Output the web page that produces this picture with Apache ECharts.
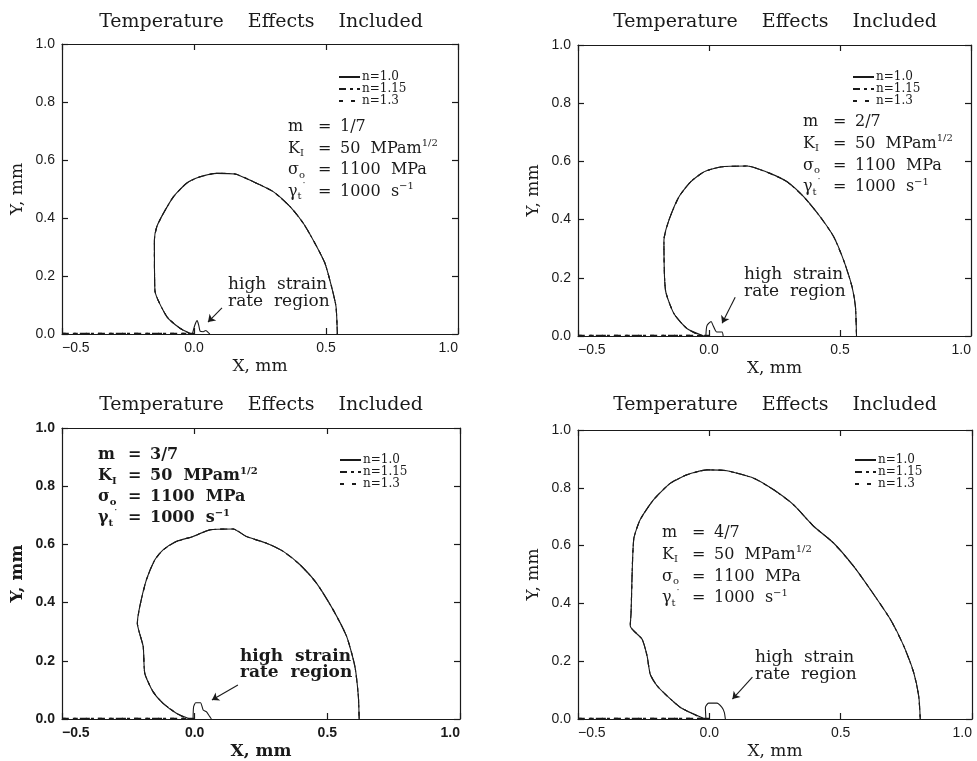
<!DOCTYPE html>
<html><head><meta charset="utf-8">
<script src="https://cdn.jsdelivr.net/npm/echarts@6/dist/echarts.min.js"></script>
<style>html,body{margin:0;padding:0;background:#fff}#c{width:977px;height:761px}</style>
</head><body><div id="c"></div>
<script>
// ---- axis ranges / ticks ----
const X_MIN = -0.5, X_MAX = 1.0, X_STEP = 0.5;
const Y_MIN = 0.0, Y_MAX = 1.0, Y_STEP = 0.2;
const seriesNames = ['n=1.0', 'n=1.15', 'n=1.3'];
const panelTitle = 'Temperature    Effects    Included';
const mValues = ['1/7', '2/7', '3/7', '4/7'];
const kValue = '50', sigmaValue = '1100', gammaValue = '1000';

// ---- plastic-zone contours (x, y in mm) ----
const contourM1 = [[-0.009,0],[-0.053,0.02],[-0.103,0.06],[-0.148,0.15],[-0.150,0.324],[-0.141,0.37],[-0.116,0.416],[-0.078,0.473],[-0.028,0.52],[0.023,0.542],[0.086,0.554],[0.155,0.552],[0.225,0.525],[0.300,0.491],[0.364,0.439],[0.414,0.382],[0.458,0.313],[0.496,0.244],[0.521,0.163],[0.538,0.094],[0.543,0]];
const contourM2 = [[-0.020,0],[-0.083,0.025],[-0.134,0.077],[-0.166,0.157],[-0.172,0.329],[-0.153,0.398],[-0.115,0.478],[-0.070,0.530],[-0.019,0.564],[0.044,0.581],[0.146,0.584],[0.235,0.558],[0.298,0.530],[0.362,0.478],[0.425,0.409],[0.476,0.341],[0.514,0.260],[0.546,0.169],[0.559,0.100],[0.563,0]];
const contourM3 = [[-0.018,0],[-0.069,0.02],[-0.119,0.054],[-0.157,0.094],[-0.188,0.157],[-0.194,0.249],[-0.216,0.329],[-0.207,0.386],[-0.182,0.478],[-0.150,0.547],[-0.119,0.581],[-0.069,0.610],[-0.006,0.627],[0.057,0.650],[0.145,0.653],[0.195,0.627],[0.271,0.604],[0.334,0.576],[0.397,0.530],[0.459,0.467],[0.522,0.375],[0.573,0.283],[0.604,0.180],[0.617,0.077],[0.620,0]];
const contourM4 = [[-0.015,0],[-0.060,0.017],[-0.110,0.04],[-0.161,0.08],[-0.199,0.115],[-0.225,0.155],[-0.237,0.218],[-0.256,0.276],[-0.301,0.322],[-0.298,0.368],[-0.288,0.621],[-0.263,0.690],[-0.212,0.759],[-0.148,0.816],[-0.085,0.845],[-0.009,0.862],[0.067,0.859],[0.169,0.833],[0.245,0.793],[0.321,0.741],[0.397,0.667],[0.473,0.609],[0.549,0.529],[0.613,0.448],[0.689,0.345],[0.740,0.253],[0.778,0.161],[0.797,0.080],[0.803,0]];

// ---- high strain rate regions ----
const hsrM1 = [[-0.006,0],[0.003,0.03],[0.012,0.046],[0.018,0.03],[0.023,0.01],[0.035,0.008],[0.045,0.012],[0.055,0.004],[0.06,0]];
const hsrM2 = [[-0.012,0],[-0.008,0.035],[0.008,0.050],[0.016,0.035],[0.029,0.014],[0.050,0.014],[0.054,0]];
const hsrM3 = [[-0.006,0],[-0.004,0.042],[0.004,0.056],[0.022,0.056],[0.032,0.031],[0.044,0.025],[0.057,0.008],[0.063,0]];
const hsrM4 = [[-0.013,0],[-0.015,0.04],[-0.003,0.055],[0.029,0.055],[0.048,0.04],[0.057,0.023],[0.061,0]];

// dashed curves (n=1.15, n=1.3) run along the crack face and coincide with the solid contour
const crackFace = [[-0.5,0.002],[0,0.002]];

// arrow tail / head (data coords)
const arrowM1 = [[0.106,0.090],[0.053,0.041]];
const arrowM2 = [[0.100,0.133],[0.050,0.044]];
const arrowM3 = [[0.163,0.117],[0.065,0.065]];
const arrowM4 = [[0.164,0.145],[0.088,0.069]];

const contours = [contourM1, contourM2, contourM3, contourM4];
const hsrs = [hsrM1, hsrM2, hsrM3, hsrM4];
const arrows = [arrowM1, arrowM2, arrowM3, arrowM4];

// ---- layout ----
const grids = [
  {left: 62,  top: 44,  width: 396, height: 290},
  {left: 578, top: 45,  width: 393, height: 291},
  {left: 62,  top: 428, width: 398, height: 291},
  {left: 578, top: 430, width: 394, height: 290}
];
const titlePos = [[261, 22], [775, 22], [261, 405], [775, 405]];
const paramPos = [[288, 127, 21.5], [803, 122, 21.7], [98, 455, 21], [662, 533, 21.7]];
const legendPos = [[338, 71], [852, 71], [339, 454], [854, 454]];
const hsrTextPos = [[228, 285, 17], [744, 275, 17], [240, 657, 16], [755, 658, 17]];

const INK = '#1a1a1a';
const SERIF = '"DejaVu Serif", "Liberation Serif", serif';
const SANS = '"Liberation Sans", Arial, sans-serif';
const fmt = v => (v < 0 ? '\u2212' : '') + Math.abs(v).toFixed(1);

const xAxes = [], yAxes = [], series = [], legends = [], graphics = [];
grids.forEach((g, i) => {
  const bold = i === 2 ? 'bold' : 'normal';
  const common = {type: 'value', gridIndex: i, splitLine: {show: false},
    axisLine: {show: true, onZero: false, lineStyle: {color: INK, width: 1.2}},
    axisTick: {show: true, inside: true, length: 6, lineStyle: {color: INK, width: 1.2}}};
  xAxes.push(Object.assign({}, common, {position: 'bottom', min: X_MIN, max: X_MAX, interval: X_STEP,
    name: 'X, mm', nameLocation: 'middle', nameGap: 24,
    nameTextStyle: {fontFamily: SERIF, fontSize: 17, color: INK, fontWeight: bold},
    axisLabel: {formatter: fmt, fontFamily: SANS, fontSize: 14, color: INK, margin: 7, fontWeight: bold,
      alignMinLabel: 'left', alignMaxLabel: 'right'}}));
  xAxes.push(Object.assign({}, common, {position: 'top', min: X_MIN, max: X_MAX, interval: X_STEP,
    axisLabel: {show: false}}));
  yAxes.push(Object.assign({}, common, {position: 'left', min: Y_MIN, max: Y_MAX, interval: Y_STEP,
    name: 'Y, mm', nameLocation: 'middle', nameGap: 36, nameRotate: 90,
    nameTextStyle: {fontFamily: SERIF, fontSize: 17, color: INK, fontWeight: bold},
    axisLabel: {formatter: fmt, fontFamily: SANS, fontSize: 14, color: INK, margin: 7, fontWeight: bold}}));
  yAxes.push(Object.assign({}, common, {position: 'right', min: Y_MIN, max: Y_MAX, interval: Y_STEP,
    axisLabel: {show: false}}));

  const ax = {xAxisIndex: 2 * i, yAxisIndex: 2 * i};
  series.push(Object.assign({type: 'line', name: seriesNames[0], data: contours[i], symbol: 'none', smooth: 0.2,
    lineStyle: {color: INK, width: 1.1}, itemStyle: {color: INK}, animation: false,
    markLine: {silent: true, symbol: ['none', 'arrow'], symbolSize: 7, label: {show: false},
      lineStyle: {color: INK, width: 1.1, type: 'solid'},
      data: [[{coord: arrows[i][0]}, {coord: arrows[i][1]}]]}}, ax));
  series.push(Object.assign({type: 'line', name: seriesNames[0], data: hsrs[i], symbol: 'none', smooth: 0.2,
    lineStyle: {color: INK, width: 1.1}, itemStyle: {color: INK}, animation: false}, ax));
  series.push(Object.assign({type: 'line', name: seriesNames[1], data: crackFace.concat(contours[i]), symbol: 'none', smooth: 0.2,
    lineStyle: {color: INK, width: 1.1, type: [7, 4, 3, 4]}, itemStyle: {color: INK}, animation: false}, ax));
  series.push(Object.assign({type: 'line', name: seriesNames[2], data: crackFace.concat(contours[i]), symbol: 'none', smooth: 0.2,
    lineStyle: {color: INK, width: 1.1, type: [4, 8]}, itemStyle: {color: INK}, animation: false}, ax));

  legends.push({data: seriesNames, orient: 'vertical', left: legendPos[i][0], top: legendPos[i][1],
    itemWidth: 21, itemHeight: 12, itemGap: 0, padding: 0, selectedMode: false,
    itemStyle: {opacity: 0},
    textStyle: {fontFamily: SERIF, fontSize: 12, color: INK, padding: [0, 0, 0, -3]}});

  // title
  graphics.push({type: 'text', x: titlePos[i][0], y: titlePos[i][1], silent: true,
    style: {text: panelTitle, fontFamily: SERIF, fontSize: 19, fill: INK,
      align: 'center', verticalAlign: 'middle', textAlign: 'center', textVerticalAlign: 'middle'}});

  // parameter block
  const rich = {
    b: {fontFamily: SERIF, fontSize: 16, fill: INK, color: INK, lineHeight: 20, fontWeight: bold},
    sub: {fontFamily: SERIF, fontSize: 10, color: INK, lineHeight: 10, verticalAlign: 'bottom', fontWeight: bold},
    sup: {fontFamily: SERIF, fontSize: 10, color: INK, lineHeight: 10, verticalAlign: 'top', fontWeight: bold}
  };
  const [px, py, dy] = paramPos[i];
  const rows = [
    ['{b|m}', '{b|' + mValues[i] + '}'],
    ['{b|K}{sub|I}', '{b|' + kValue + '  MPam}{sup|1/2}'],
    ['{b|\u03c3}{sub|o}', '{b|' + sigmaValue + '  MPa}'],
    ['{b|\u03b3}{sub|t}{sup|\u02d9}', '{b|' + gammaValue + '  s}{sup|\u22121}']
  ];
  rows.forEach((r, k) => {
    const yy = py + k * dy;
    const base = {fontFamily: SERIF, fontSize: 16, fill: INK, fontWeight: bold,
      align: 'left', verticalAlign: 'middle', textAlign: 'left', textVerticalAlign: 'middle', rich: rich};
    graphics.push({type: 'text', x: px, y: yy, silent: true, style: Object.assign({}, base, {text: r[0]})});
    graphics.push({type: 'text', x: px + 30, y: yy, silent: true, style: Object.assign({}, base, {text: '{b|=}'})});
    graphics.push({type: 'text', x: px + 52, y: yy, silent: true, style: Object.assign({}, base, {text: r[1]})});
  });

  // high strain rate label
  const [hx, hy, hd] = hsrTextPos[i];
  ['high  strain', 'rate  region'].forEach((t, k) => {
    graphics.push({type: 'text', x: hx, y: hy + k * hd, silent: true,
      style: {text: t, fontFamily: SERIF, fontSize: 17, fill: INK, fontWeight: bold,
        align: 'left', verticalAlign: 'middle', textAlign: 'left', textVerticalAlign: 'middle'}});
  });
});

const chart = echarts.init(document.getElementById('c'), null, {renderer: 'canvas'});
chart.setOption({
  backgroundColor: '#fff',
  animation: false,
  grid: grids.map(g => Object.assign({containLabel: false}, g)),
  xAxis: xAxes,
  yAxis: yAxes,
  legend: legends,
  series: series,
  graphic: {elements: graphics}
});
</script></body></html>
